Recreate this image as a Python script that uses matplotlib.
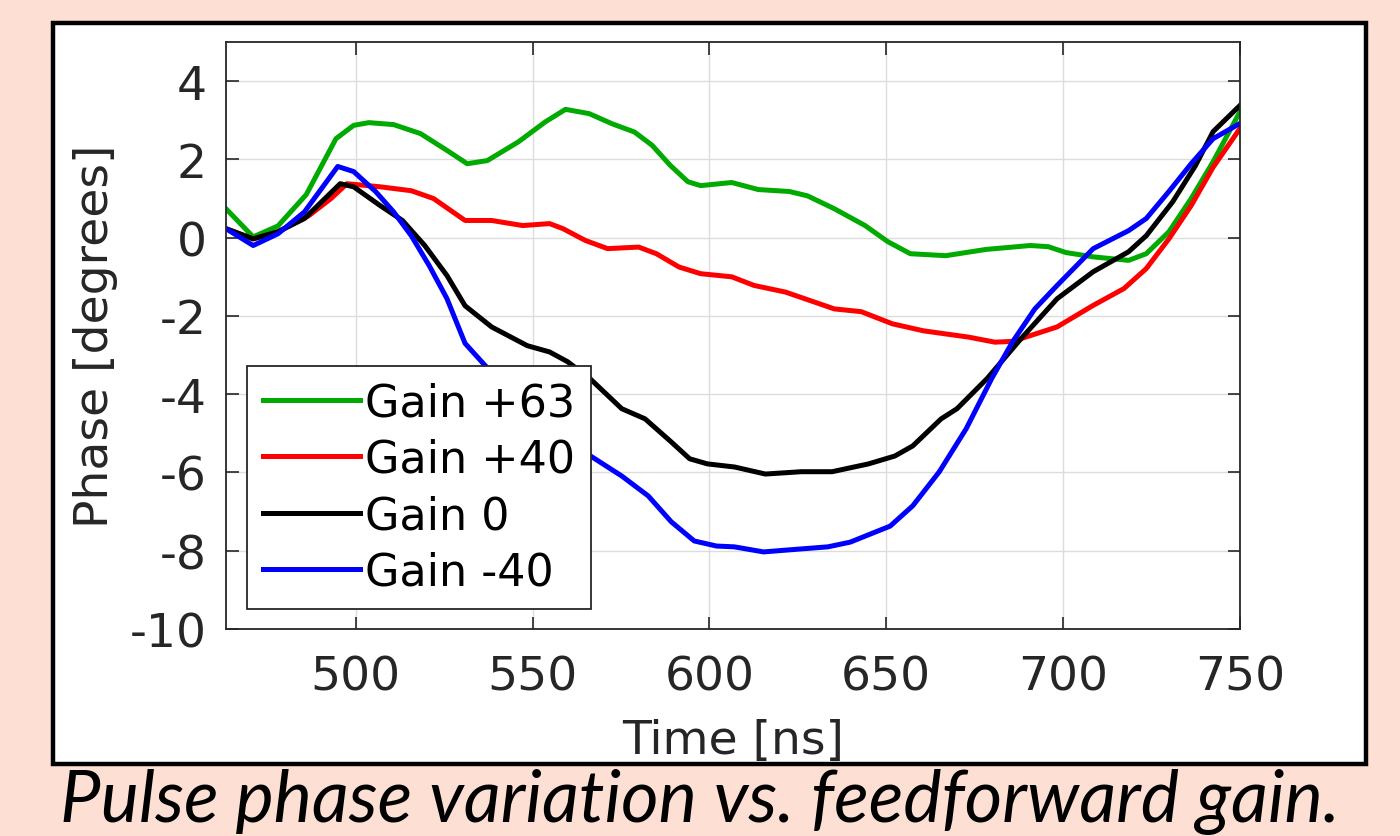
import numpy as np
import matplotlib
matplotlib.use('Agg')
from matplotlib import pyplot as plt
from matplotlib.patches import Rectangle

# data (time in ns, phase in degrees)
t_g63 = [463.3, 471, 478, 486, 494.4, 499.4, 503.7, 510.7, 518.3, 525.8, 531.5, 537.2, 546, 553.6,
         559.3, 566, 572.5, 578.8, 583.8, 588.9, 593.9, 597.5, 606.3, 613.8, 622.6, 627.7, 635.3,
         644, 650.4, 656.8, 666.8, 678.2, 690.7, 695.8, 700.8, 708.5, 718.5, 723.5, 729.9, 736.2,
         742.4, 750]
ph_g63 = [0.74, 0.02, 0.3, 1.1, 2.53, 2.87, 2.94, 2.89, 2.66, 2.23, 1.89, 1.97, 2.45, 2.96,
          3.28, 3.17, 2.91, 2.7, 2.36, 1.85, 1.43, 1.33, 1.41, 1.23, 1.18, 1.07, 0.74,
          0.31, -0.1, -0.41, -0.46, -0.3, -0.2, -0.23, -0.38, -0.49, -0.58, -0.41, 0.15, 1.0,
          1.94, 3.22]

t_g40 = [463.3, 471, 478, 486.7, 493, 497.5, 506.9, 515.7, 522, 530.9, 538.4, 547.2, 554.8, 558.6,
         564.9, 571.2, 580, 585, 591.4, 597.5, 606.3, 612.6, 621.5, 635.3, 642.9, 651.7, 660.5,
         673.2, 680.7, 685.7, 698.3, 708.5, 717.2, 723.5, 729.9, 736.2, 742.4, 750]
ph_g40 = [0.23, -0.03, 0.15, 0.56, 1.0, 1.38, 1.3, 1.2, 1.0, 0.44, 0.44, 0.31, 0.36, 0.23,
          -0.07, -0.28, -0.24, -0.41, -0.75, -0.92, -1.0, -1.22, -1.39, -1.82, -1.89, -2.2, -2.38,
          -2.54, -2.67, -2.65, -2.28, -1.73, -1.3, -0.79, -0.03, 0.82, 1.8, 2.79]

t_g0 = [463.3, 471, 478, 485.5, 495.6, 499.4, 506.9, 513.2, 519.5, 525.8, 530.9, 538.4, 548.5,
        554.8, 559.9, 566.2, 575.2, 581.8, 589.2, 594.4, 599.4, 607.1, 615.8, 626, 634.7, 645,
        652.4, 657.5, 665.5, 670, 678.5, 688.1, 698.3, 708.5, 718.5, 723.5, 731, 737.4, 742.4, 750]
ph_g0 = [0.23, -0.03, 0.15, 0.49, 1.38, 1.3, 0.82, 0.44, -0.2, -0.97, -1.74, -2.28, -2.76,
         -2.92, -3.17, -3.6, -4.37, -4.63, -5.22, -5.65, -5.78, -5.86, -6.04, -5.98, -5.98, -5.78,
         -5.58, -5.32, -4.63, -4.37, -3.6, -2.58, -1.56, -0.87, -0.36, 0.05, 0.92, 1.84, 2.71, 3.38]

t_gm40 = [463.3, 471, 478, 485.5, 494.9, 499.4, 505.6, 510.7, 515.7, 520.8, 525.8, 530.9, 536.4,
          545, 555, 566.4, 575.2, 582.7, 589.2, 595.7, 602, 607, 615.3, 622.2, 633.5, 639.8,
          651.1, 657.5, 665, 672.6, 679.8, 685.7, 692, 698.3, 708.5, 718.5, 723.5, 729.9, 736.2,
          742.4, 750]
ph_gm40 = [0.23, -0.2, 0.1, 0.66, 1.82, 1.69, 1.18, 0.66, 0.05, -0.72, -1.56, -2.7, -3.25,
           -4.1, -4.85, -5.58, -6.09, -6.6, -7.26, -7.75, -7.88, -7.9, -8.03, -7.98, -7.9, -7.78,
           -7.37, -6.85, -5.98, -4.88, -3.6, -2.66, -1.82, -1.22, -0.28, 0.18, 0.49, 1.18, 1.89,
           2.53, 2.92]

labels = ['Gain +63', 'Gain +40', 'Gain 0', 'Gain -40']
colors = ['#00aa00', '#ff0000', '#000000', '#0000ff']
x_ticks = [500, 550, 600, 650, 700, 750]
y_ticks = [-10, -8, -6, -4, -2, 0, 2, 4]

plt.rcParams['font.family'] = ['DejaVu Sans']
plt.rcParams['axes.unicode_minus'] = False
txt = '#262626'

fig = plt.figure(figsize=(14, 8.37), dpi=100)
fig.patch.set_facecolor('#fddfd3')

# white panel with black frame
fig.add_artist(Rectangle((0.0379, 0.086), 0.938, 0.885, transform=fig.transFigure,
                         facecolor='white', edgecolor='black', linewidth=3.2, zorder=0))

ax = fig.add_axes([0.1614, 0.2473, 0.7243, 0.7013])
ax.set_zorder(2)

for t, ph, lab, c in zip([t_g63, t_g40, t_g0, t_gm40], [ph_g63, ph_g40, ph_g0, ph_gm40],
                         labels, colors):
    ax.plot(t, ph, color=c, linewidth=3.6, label=lab, solid_joinstyle='round')

ax.set_xlim(463.3, 750)
ax.set_ylim(-10, 5)
ax.set_xticks(x_ticks)
ax.set_yticks(y_ticks)
ax.grid(True, color='#dcdcdc', linewidth=1)
ax.set_axisbelow(True)
ax.tick_params(direction='in', length=9, width=1.2, colors=txt, labelsize=34,
               top=True, right=True)
ax.tick_params(axis='x', pad=18)
ax.tick_params(axis='y', pad=14)
for s in ax.spines.values():
    s.set_color(txt)
    s.set_linewidth(1.3)

ax.set_xlabel('Time [ns]', fontsize=34, color=txt, labelpad=14)
ax.set_ylabel('Phase [degrees]', fontsize=34, color=txt, labelpad=8)

leg = ax.legend(loc='upper left', bbox_to_anchor=(0.0207, 0.448), borderaxespad=0,
                fontsize=32, handlelength=2.2, handletextpad=0.1, labelspacing=0.3,
                borderpad=0.35, fancybox=False, framealpha=1, edgecolor=txt)
leg.get_frame().set_linewidth(1.3)
for txt_item in leg.get_texts():
    txt_item.set_color('black')

fig.text(0.5, 0.042, 'Pulse phase variation vs. feedforward gain.', ha='center', va='center',
         fontsize=52, style='italic', family=['Lato', 'DejaVu Sans'], color='black')

fig.savefig('out.png', dpi=100, facecolor=fig.get_facecolor())
